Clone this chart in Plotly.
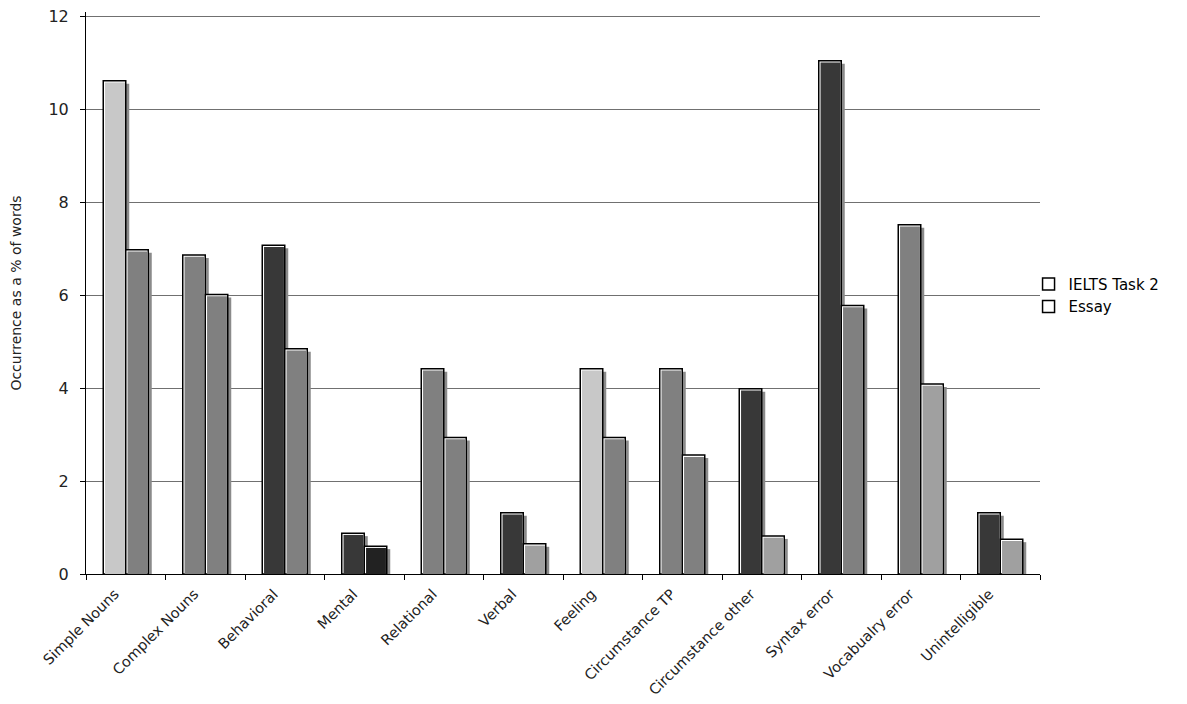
import plotly.graph_objects as go

categories = ["Simple Nouns", "Complex Nouns", "Behavioral", "Mental", "Relational",
              "Verbal", "Feeling", "Circumstance TP", "Circumstance other",
              "Syntax error", "Vocabualry error", "Unintelligible"]
ielts = [10.62, 6.87, 7.08, 0.88, 4.42, 1.32, 4.42, 4.42, 3.99, 11.05, 7.52, 1.32]
essay = [6.98, 6.02, 4.85, 0.60, 2.94, 0.65, 2.94, 2.56, 0.82, 5.78, 4.09, 0.75]
y_ticks = [0, 2, 4, 6, 8, 10, 12]

# fill of each bar as in the picture (greys differ bar by bar)
ielts_fill = ["#c8c8c8", "#808080", "#383838", "#383838", "#808080", "#383838",
              "#c8c8c8", "#808080", "#383838", "#383838", "#808080", "#383838"]
essay_fill = ["#808080", "#808080", "#808080", "#222222", "#808080", "#a0a0a0",
              "#808080", "#808080", "#a0a0a0", "#808080", "#a0a0a0", "#a0a0a0"]

# page body has an 8px margin, so the figure is a bit smaller than the window
W, H = 1179, 696
ML, MR, MT, MB = 78, 147, 4, 130
Y_TOP = 12.1   # a little headroom so the 12 gridline is kept
px_x = 1.0 / ((W - ML - MR) / len(categories))   # category units per px
px_y = Y_TOP / (H - MT - MB)                      # data units per px

bw = 0.283
offs = [-bw, 0.0]

fig = go.Figure()

# drop shadows
for vals, off in zip([ielts, essay], offs):
    fig.add_trace(go.Bar(x=categories, y=[v - 3 * px_y for v in vals],
                         width=bw, offset=off + 3.5 * px_x,
                         marker=dict(color="#8a8a8a", line=dict(width=0)),
                         showlegend=False, hoverinfo="skip"))

# outlined bars (white, gives the highlight edge)
for vals, off, name in zip([ielts, essay], offs, ["IELTS Task 2", "Essay"]):
    fig.add_trace(go.Bar(x=categories, y=vals, width=bw, offset=off, name=name,
                         marker=dict(color="white", line=dict(color="black", width=1.5))))

# coloured fill inside the outline
for vals, off, fills in zip([ielts, essay], offs, [ielts_fill, essay_fill]):
    fig.add_trace(go.Bar(x=categories, y=[v - 1.8 * px_y for v in vals],
                         width=bw - 2.6 * px_x, offset=off + 1.8 * px_x,
                         marker=dict(color=fills, line=dict(width=0)),
                         showlegend=False, hoverinfo="skip"))

fig.update_layout(
    width=W, height=H,
    margin=dict(l=ML, r=MR, t=MT, b=MB, autoexpand=False),
    barmode="overlay",
    plot_bgcolor="white", paper_bgcolor="white",
    font=dict(family="DejaVu Sans", color="black", size=14),
    legend=dict(x=0.988, y=0.5 * 12 / Y_TOP, xanchor="left", yanchor="middle",
                font=dict(size=15), itemwidth=30, bgcolor="rgba(0,0,0,0)",
                tracegroupgap=0),
)
fig.update_xaxes(type="category", range=[-0.5, 11.5], showline=True, linecolor="black",
                 linewidth=1, ticks="outside", tickson="boundaries", ticklen=5,
                 tickcolor="black", tickangle=-45, tickfont=dict(size=14.5, color="#222222"),
                 ticklabelshift=-11, ticklabelstandoff=5,
                 showgrid=False, automargin=False)
fig.update_yaxes(range=[0, Y_TOP], tickvals=y_ticks, ticklabeloverflow="allow",
                 showline=True, linecolor="black", linewidth=1,
                 ticks="outside", ticklen=5, tickcolor="black",
                 tickfont=dict(size=16, color="#222222"), ticklabelstandoff=8,
                 showgrid=True, gridcolor="#707070", gridwidth=1.3, zeroline=False,
                 title=dict(text="Occurrence as a % of words",
                            font=dict(size=14, color="#222222"), standoff=24),
                 automargin=False)

fig.write_html("out.html")
